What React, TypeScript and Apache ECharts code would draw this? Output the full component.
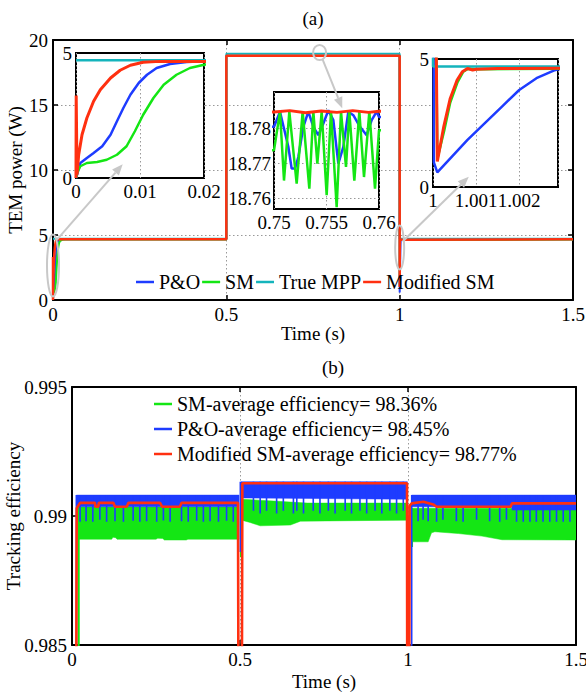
import React, { useEffect, useRef } from 'react';
import * as echarts from 'echarts';

type P = [number, number];
type V = [number, number, number];

const FONT = 'Liberation Serif';
const C_PO = '#1e3cff';
const C_SM = '#14e614';
const C_MPP = '#14b4bc';
const C_MOD = '#ff3010';

// ---------------- Panel (a): TEM power (W) ----------------
const powerNames = ['P&O', 'SM', 'True MPP', 'Modified SM'];

// start-up transient (inset 0 – 0.02 s)
const poStart: P[] = [[0, 0], [0.00016, 0.13], [0.00068, 0.6], [0.0017, 0.8], [0.00275, 1.0], [0.0041, 1.27], [0.0054, 1.73], [0.0064, 2.27], [0.0074, 2.8], [0.0085, 3.33], [0.0098, 3.8], [0.0111, 4.13], [0.0126, 4.4], [0.0147, 4.56], [0.0173, 4.64], [0.02, 4.67]];
const smStart: P[] = [[0, 0], [0.00016, 0.2], [0.00068, 0.47], [0.0017, 0.6], [0.0033, 0.64], [0.0048, 0.73], [0.0064, 0.93], [0.0079, 1.27], [0.0092, 1.87], [0.0105, 2.53], [0.0121, 3.2], [0.0137, 3.73], [0.0157, 4.13], [0.0178, 4.4], [0.02, 4.53], [0.026, 4.63], [0.035, 4.65]];
const modStart: P[] = [[0, 0], [0.00003, 3.3], [0.00016, 0.13], [0.00042, 0.93], [0.00094, 1.73], [0.0017, 2.4], [0.00275, 3.07], [0.0038, 3.53], [0.0054, 4.0], [0.0069, 4.31], [0.0085, 4.51], [0.0105, 4.63], [0.0131, 4.665], [0.02, 4.665]];

// steady-state ripple (inset 0.75 – 0.76 s)
const poMid: P[] = [[0.75, 18.7804], [0.750571, 18.7847], [0.751365, 18.7747], [0.751683, 18.7685], [0.752, 18.7685], [0.752317, 18.7718], [0.752794, 18.7804], [0.75327, 18.7847], [0.753746, 18.7804], [0.754222, 18.778], [0.754698, 18.7813], [0.755175, 18.7851], [0.755651, 18.7823], [0.756127, 18.7699], [0.756603, 18.7747], [0.757079, 18.7847], [0.757556, 18.7837], [0.75819, 18.7804], [0.758825, 18.778], [0.759302, 18.7823], [0.759778, 18.7847], [0.76, 18.7832]];
const smMid: P[] = [[0.75, 18.7737], [0.750571, 18.7847], [0.750952, 18.7651], [0.75146, 18.7847], [0.752159, 18.7642], [0.75273, 18.7847], [0.753365, 18.7628], [0.753746, 18.7847], [0.754127, 18.7699], [0.75454, 18.7847], [0.755016, 18.7609], [0.755429, 18.7847], [0.755968, 18.7575], [0.756381, 18.7847], [0.756857, 18.769], [0.757175, 18.7847], [0.757651, 18.7651], [0.758127, 18.7847], [0.758571, 18.7661], [0.759079, 18.7847], [0.759619, 18.7628], [0.76, 18.7794]];
const modMid: P[] = [[0.75, 18.7846], [0.7515, 18.785], [0.753, 18.7844], [0.7545, 18.7849], [0.756, 18.7845], [0.7575, 18.785], [0.759, 18.7845], [0.76, 18.7848]];

// step-down transient (inset 1.0 – 1.003 s)
const poEnd: P[] = [[1.0, 18.785], [1.00002, 0.96], [1.0001, 0.57], [1.0008, 1.84], [1.0016, 3.14], [1.002, 3.79], [1.0024, 4.25], [1.0028, 4.55], [1.0029, 4.6], [1.0035, 4.67]];
const smEnd: P[] = [[1.0, 18.785], [1.0001, 1.1], [1.00026, 2.2], [1.0004, 3.3], [1.00057, 4.1], [1.0007, 4.5], [1.00082, 4.62], [1.001, 4.6], [1.0029, 4.62]];
const modEnd: P[] = [[1.0, 18.785], [1.0001, 1.0], [1.00025, 2.36], [1.0004, 3.46], [1.00056, 4.18], [1.00068, 4.5], [1.0008, 4.63], [1.00092, 4.57], [1.001, 4.6], [1.0015, 4.63], [1.0029, 4.64]];

const poMain: P[] = [...poStart, [0.5, 4.67], [0.5, 18.785], ...poMid, ...poEnd, [1.5, 4.67]];
const smMain: P[] = [...smStart, [0.5, 4.65], [0.5, 18.785], ...smMid, ...smEnd, [1.5, 4.65]];
const modMain: P[] = [...modStart, [0.5, 4.665], [0.5, 18.785], ...modMid, ...modEnd, [1.5, 4.665]];
const mppMain: P[] = [[0, 4.71], [0.5, 4.71], [0.5, 18.95], [1.0, 18.95], [1.0, 4.71], [1.5, 4.71]];

// ---------------- Panel (b): tracking efficiency ----------------
const effNames = ['SM-average efficiency= 98.36%', 'P&O-average efficiency= 98.45%', 'Modified SM-average efficiency= 98.77%'];

const modEff: P[] = [[0, 0.98], [0.012, 0.98], [0.014, 0.9903], [0.024, 0.99051], [0.068, 0.99051], [0.07, 0.99036], [0.078, 0.99036], [0.08, 0.99051], [0.123, 0.99051], [0.128, 0.99036], [0.163, 0.99036], [0.168, 0.99051], [0.262, 0.99051], [0.268, 0.99036], [0.321, 0.99036], [0.326, 0.99051], [0.494, 0.99051], [0.496, 0.98], [0.505, 0.98], [0.507, 0.99127], [0.997, 0.99127], [0.998, 0.98], [1.003, 0.98], [1.005, 0.9904], [1.011, 0.99049], [1.046, 0.99055], [1.075, 0.99045], [1.085, 0.99036], [1.306, 0.99036], [1.309, 0.99049], [1.5, 0.99049]];

// P&O band (upper / lower envelopes) per segment, and spikes [t, depth]
const poUpper1: P[] = [[0.013, 0.99081], [0.497, 0.99081]];
const poLower1: P[] = [[0.013, 0.99036], [0.497, 0.99036]];
const poUpper2: P[] = [[0.503, 0.99133], [0.998, 0.99133]];
const poLower2: P[] = [[0.503, 0.9907], [0.998, 0.99065]];
const poUpper3: P[] = [[1.011, 0.99081], [1.5, 0.99081]];
const poLower3: P[] = [[1.011, 0.99036], [1.308, 0.99036], [1.31, 0.99023], [1.5, 0.99023]];
const poSpikes1: P[] = [[0.024, 0.98978], [0.042, 0.9898], [0.062, 0.98978], [0.083, 0.98985], [0.103, 0.98978], [0.128, 0.9898], [0.153, 0.98978], [0.182, 0.98982], [0.202, 0.98978], [0.222, 0.9898], [0.252, 0.98978], [0.272, 0.98983], [0.292, 0.98978], [0.326, 0.9898], [0.346, 0.98978], [0.371, 0.98982], [0.391, 0.98978], [0.411, 0.9898], [0.436, 0.98978], [0.46, 0.98982], [0.48, 0.98978]];
const poSpikes2: P[] = [[0.54, 0.9902], [0.56, 0.9901], [0.579, 0.9902], [0.609, 0.9901], [0.629, 0.9902], [0.659, 0.9901], [0.669, 0.9902], [0.689, 0.9901], [0.718, 0.9902], [0.738, 0.9901], [0.763, 0.9902], [0.783, 0.9901], [0.813, 0.9902], [0.832, 0.9901], [0.857, 0.9902], [0.877, 0.9901], [0.902, 0.9902], [0.922, 0.9901], [0.946, 0.9902], [0.966, 0.9901], [0.986, 0.9902]];
const poSpikes3: P[] = [[1.03, 0.9898], [1.045, 0.98985], [1.06, 0.9898], [1.085, 0.98978], [1.104, 0.98985], [1.144, 0.9898], [1.164, 0.98978], [1.204, 0.98985], [1.243, 0.9898], [1.273, 0.98978], [1.293, 0.98985], [1.323, 0.98978], [1.343, 0.98978], [1.363, 0.98978], [1.382, 0.98978], [1.402, 0.98978], [1.422, 0.98978], [1.442, 0.98978], [1.462, 0.98978], [1.482, 0.98978]];
const poDrops: V[] = [[0.013, 0.99081, 0.984], [0.501, 0.99133, 0.9886], [1.011, 0.99081, 0.984]];

// SM band
const smUpper1: P[] = [[0.021, 0.99035], [0.497, 0.99035]];
const smLower1: P[] = [[0.021, 0.9891], [0.118, 0.9891], [0.122, 0.98918], [0.13, 0.98916], [0.134, 0.9891], [0.25, 0.9891], [0.255, 0.98914], [0.27, 0.98913], [0.275, 0.98907], [0.34, 0.98907], [0.345, 0.9891], [0.497, 0.9891]];
const smUpper2: P[] = [[0.505, 0.99065], [0.6, 0.99058], [0.7, 0.9905], [0.998, 0.9905]];
const smLower2: P[] = [[0.505, 0.98984], [0.53, 0.98975], [0.56, 0.98962], [0.65, 0.98965], [0.68, 0.9898], [0.998, 0.98984]];
const smUpper3: P[] = [[1.012, 0.9903], [1.5, 0.9903]];
const smLower3: P[] = [[1.012, 0.989], [1.06, 0.989], [1.07, 0.98935], [1.08, 0.98939], [1.15, 0.98932], [1.22, 0.98922], [1.28, 0.98908], [1.5, 0.98907]];
const smDrops: V[] = [[0.02, 0.99035, 0.984], [0.503, 0.9906, 0.9884], [1.012, 0.9903, 0.9888]];

// ---------------- helpers ----------------
const txt = { color: '#000', fontSize: 19, fontFamily: FONT };
const fmt3 = (v: number) => String(+(+v).toFixed(4));

function frameAxis(gridIndex: number, position: string, min: number, max: number, interval: number) {
  return {
    gridIndex, type: 'value', position, min, max, interval,
    axisLine: { show: true, onZero: false, lineStyle: { color: '#000', width: 2 } },
    axisTick: { show: true, inside: true, length: 5, lineStyle: { color: '#000', width: 1.5 } },
    axisLabel: { show: false },
    splitLine: { show: false },
  };
}
function mainAxis(gridIndex: number, position: string, min: number, max: number, interval: number, name: string, nameGap: number) {
  return {
    gridIndex, type: 'value', position, min, max, interval,
    name, nameLocation: 'middle', nameGap, nameMoveOverlap: false, nameTextStyle: { ...txt },
    axisLine: { show: true, onZero: false, lineStyle: { color: '#000', width: 2 } },
    axisTick: { show: true, inside: true, length: 5, lineStyle: { color: '#000', width: 1.5 } },
    axisLabel: { ...txt, margin: 5, formatter: fmt3 },
    splitLine: { show: true, lineStyle: { color: '#999', type: [1.5, 2.5], width: 1 } },
  };
}
function insetAxis(gridIndex: number, position: string, min: number, max: number, extra: any) {
  return {
    gridIndex, type: 'value', position, min, max, z: 11,
    axisLine: { show: false, onZero: false },
    axisTick: { show: false },
    axisLabel: { ...txt, margin: 4, formatter: fmt3 },
    splitLine: { show: true, lineStyle: { color: '#999', type: [1.5, 2.5], width: 1 } },
    ...extra,
  };
}
function lineSeries(name: string, data: any[], color: string, xi: number, width: number, z: number) {
  return {
    type: 'line', name, data, xAxisIndex: xi, yAxisIndex: xi, symbol: 'none', showSymbol: false,
    clip: true, z, lineStyle: { color, width }, itemStyle: { color }, emphasis: { disabled: true },
    connectNulls: false,
  };
}
function band(name: string, upper: P[], lower: P[], color: string, z: number) {
  return {
    type: 'custom', name, xAxisIndex: 5, yAxisIndex: 5, z, clip: true, silent: true,
    data: [upper[0]],
    renderItem: (_p: any, api: any) => {
      const pts = [...upper, ...lower.slice().reverse()].map((q) => api.coord(q));
      return { type: 'polygon', shape: { points: pts }, style: { fill: color, stroke: color, lineWidth: 0.5 } };
    },
  };
}
function spikeLines(spikes: P[], top: number) {
  const out: any[] = [];
  spikes.forEach(([t, d]) => { out.push([t, top], [t, d], [t, null]); });
  return out;
}
function dropLines(drops: V[]) {
  const out: any[] = [];
  drops.forEach(([t, a, b]) => { out.push([t, a], [t, b], [t, null]); });
  return out;
}

function buildOption() {
  const gridBase = { outerBoundsMode: 'none', containLabel: false };
  const insetGrid = { ...gridBase, show: true, backgroundColor: '#fff', borderColor: '#000', borderWidth: 2, z: 10 };
  const grids = [
    { ...gridBase, left: 53, top: 40, width: 520, height: 260 },
    { ...insetGrid, left: 76, top: 53, width: 128, height: 125 },
    { ...insetGrid, left: 274, top: 92, width: 105, height: 117 },
    { ...insetGrid, left: 433, top: 59, width: 125, height: 128 },
    { ...gridBase, left: 72, top: 387, width: 504, height: 258 },
  ];
  const xAxis = [
    mainAxis(0, 'bottom', 0, 1.5, 0.5, 'Time (s)', 24),
    frameAxis(0, 'top', 0, 1.5, 0.5),
    insetAxis(1, 'bottom', 0, 0.02, { interval: 0.01 }),
    insetAxis(2, 'bottom', 0.75, 0.76, { interval: 0.005 }),
    insetAxis(3, 'bottom', 1, 1.0029, { interval: 0.001 }),
    mainAxis(4, 'bottom', 0, 1.5, 0.5, 'Time (s)', 27),
    frameAxis(4, 'top', 0, 1.5, 0.5),
  ];
  const yAxis = [
    mainAxis(0, 'left', 0, 20, 5, 'TEM power (W)', 28),
    frameAxis(0, 'right', 0, 20, 5),
    insetAxis(1, 'left', 0, 5, { interval: 5, splitLine: { show: false } }),
    insetAxis(2, 'left', 18.757, 18.7903, {
      axisTick: { show: false, customValues: [18.76, 18.77, 18.78] },
      axisLabel: { ...txt, margin: 3, customValues: [18.76, 18.77, 18.78], formatter: (v: number) => (+v).toFixed(2) },
    }),
    insetAxis(3, 'left', 0, 5, { interval: 5, splitLine: { show: false } }),
    mainAxis(4, 'left', 0.985, 0.995, 0.005, 'Tracking efficiency', 49),
    frameAxis(4, 'right', 0.985, 0.995, 0.005),
  ];
  const series: any[] = [];
  [0, 2, 3, 4].forEach((xi) => {
    const z = xi === 0 ? 2 : 12;
    const w = xi === 0 ? 2 : 2.5;
    series.push(lineSeries('P&O', poMain, C_PO, xi, w, z));
    series.push(lineSeries('SM', smMain, C_SM, xi, w, z));
    series.push(lineSeries('True MPP', mppMain, C_MPP, xi, w, z));
    series.push(lineSeries('Modified SM', modMain, C_MOD, xi, w + 0.5, z));
  });
  series.push(band('sm-band-1', smUpper1, smLower1, C_SM, 2));
  series.push(band('sm-band-2', smUpper2, smLower2, C_SM, 2));
  series.push(band('sm-band-3', smUpper3, smLower3, C_SM, 2));
  series.push(lineSeries(effNames[0], dropLines(smDrops), C_SM, 5, 2, 2));
  series.push(band('po-band-1', poUpper1, poLower1, C_PO, 3));
  series.push(band('po-band-2', poUpper2, poLower2, C_PO, 3));
  series.push(band('po-band-3', poUpper3, poLower3, C_PO, 3));
  series.push(lineSeries(effNames[1], [
    ...spikeLines(poSpikes1, poUpper1[0][1]),
    ...spikeLines(poSpikes2, poUpper2[0][1]),
    ...spikeLines(poSpikes3, poUpper3[0][1]),
    ...dropLines(poDrops),
  ], C_PO, 5, 1.6, 3));
  series.push(lineSeries(effNames[2], modEff, C_MOD, 5, 2.6, 5));

  return {
    animation: false,
    backgroundColor: '#fff',
    grid: grids,
    xAxis,
    yAxis,
    legend: [
      {
        data: powerNames, left: 136, top: 272, icon: 'rect', itemWidth: 18, itemHeight: 2.5, itemGap: 2,
        selectedMode: false, padding: 0, textStyle: { ...txt, fontSize: 20, lineHeight: 20 },
      },
      {
        data: effNames, orient: 'vertical', left: 154, top: 394, icon: 'rect', itemWidth: 18, itemHeight: 2.5, itemGap: 5,
        selectedMode: false, padding: 0, textStyle: { ...txt, fontSize: 20, lineHeight: 20 },
      },
    ],
    series,
  };
}

export default function App() {
  const ref = useRef<HTMLDivElement>(null);
  useEffect(() => {
    const el = ref.current!;
    const chart = echarts.init(el, null, { renderer: 'svg' });
    chart.setOption(buildOption());

    const px = (xi: number, p: P) => chart.convertToPixel({ xAxisIndex: xi, yAxisIndex: xi } as any, p) as number[];
    const gray = '#c8c8c8';
    const marks = [
      { c: px(0, [0, 2.65]), rx: 6, ry: 31, s: [4, -26], e: px(2, [0.0073, 0.55]) },
      { c: px(0, [0.769, 19.04]), rx: 6.5, ry: 7.5, s: [3, 7], e: px(3, [0.7565, 18.7857]) },
      { c: px(0, [1.0, 4.04]), rx: 4.5, ry: 22, s: [3, -6], e: px(4, [1.00083, 0.4]) },
    ];
    const g: any[] = [];
    marks.forEach((m) => {
      g.push({ type: 'ellipse', z: 100, shape: { cx: m.c[0], cy: m.c[1], rx: m.rx, ry: m.ry }, style: { fill: 'none', stroke: gray, lineWidth: 2 } });
      const sx = m.c[0] + m.s[0], sy = m.c[1] + m.s[1];
      const ex = m.e[0], ey = m.e[1];
      const L = Math.hypot(ex - sx, ey - sy);
      const dx = (ex - sx) / L, dy = (ey - sy) / L;
      const bx = ex - dx * 11, by = ey - dy * 11;
      g.push({ type: 'line', z: 100, shape: { x1: sx, y1: sy, x2: bx, y2: by }, style: { stroke: gray, lineWidth: 2 } });
      g.push({ type: 'polygon', z: 100, shape: { points: [[ex, ey], [bx - dy * 4.5, by + dx * 4.5], [bx + dy * 4.5, by - dx * 4.5]] }, style: { fill: gray } });
    });
    g.push({ type: 'text', z: 100, x: 313, y: 18, style: { text: '(a)', fill: '#000', fontSize: 19, fontFamily: FONT, align: 'center', verticalAlign: 'middle' } });
    g.push({ type: 'text', z: 100, x: 333, y: 367, style: { text: '(b)', fill: '#000', fontSize: 19, fontFamily: FONT, align: 'center', verticalAlign: 'middle' } });
    chart.setOption({ graphic: g });
    return () => chart.dispose();
  }, []);
  return <div ref={ref} style={{ position: 'fixed', left: 0, top: 0, width: 586, height: 695, background: '#fff' }} />;
}
